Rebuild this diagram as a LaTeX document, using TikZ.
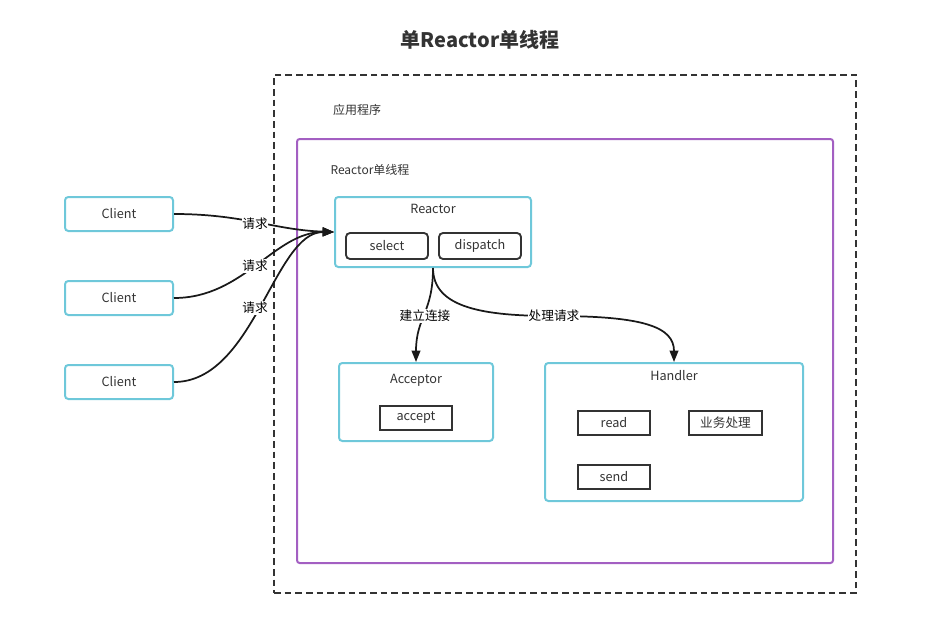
\documentclass[tikz,border=0pt]{standalone}
\usepackage{fontspec}
\setmainfont{Noto Sans CJK SC}
\usetikzlibrary{arrows.meta,calc}
\definecolor{cyanb}{HTML}{6EC8DA}
\definecolor{purp}{HTML}{A35FC2}
\definecolor{dk}{HTML}{333333}
\begin{document}
\begin{tikzpicture}[x=0.75pt,y=-0.75pt,
  txt/.style={font=\fontsize{9.5}{11}\selectfont, text=dk, inner sep=1pt},
  cbox/.style n args={2}{draw=cyanb, line width=1.5pt, rounded corners=2.5pt, minimum width=#1*0.75pt, minimum height=#2*0.75pt, inner sep=0pt},
  rbox/.style={draw=dk, line width=1.4pt, rounded corners=3pt, minimum width=82*0.75pt, minimum height=26*0.75pt, inner sep=0pt, font=\fontsize{9.5}{11}\selectfont, text=dk},
  sbox/.style={draw=dk, line width=1.4pt, minimum width=#1*0.75pt, minimum height=24.5*0.75pt, inner sep=0pt, font=\fontsize{9.5}{11}\selectfont, text=dk},
  conn/.style={draw=black!90, line width=1.3pt, -{Triangle[length=8.5pt,width=6.5pt]}},
  lbl/.style={fill=white, font=\fontsize{9.5}{11}\selectfont, text=black, inner sep=0.5pt}
]
\useasboundingbox (0,0) rectangle (930,628);
% title
\node[font=\fontsize{15}{18}\selectfont\bfseries, text=dk] (title) at (480,40) {单Reactor单线程};
% outer dashed
\node[draw=dk, line width=1.2pt, dash pattern=on 5pt off 3pt, minimum width=582*0.75pt, minimum height=518*0.75pt, inner sep=0pt] (app) at (565,334) {};
\node[txt, font=\fontsize{9}{11}\selectfont] (applbl) at (357,110) {应用程序};
% purple
\node[draw=purp, line width=1.5pt, rounded corners=2pt, minimum width=536*0.75pt, minimum height=424*0.75pt, inner sep=0pt] (thread) at (565,351) {};
\node[txt, font=\fontsize{9}{11}\selectfont] (threadlbl) at (370,170) {Reactor单线程};
% clients
\node[cbox={108}{34}, txt] (c1) at (119,214) {Client};
\node[cbox={108}{34}, txt] (c2) at (119,298) {Client};
\node[cbox={108}{34}, txt] (c3) at (119,382) {Client};
% reactor
\node[cbox={196}{70}] (reactor) at (433,232) {};
\node[txt] (reactorlbl) at (433,209) {Reactor};
\node[rbox] (sel) at (387,246) {select};
\node[rbox] (disp) at (480,246) {dispatch};
% acceptor
\node[cbox={154}{78}] (acceptor) at (416,402) {};
\node[txt] (acclbl) at (416,380) {Acceptor};
\node[sbox=72] (acc) at (416,418) {accept};
% handler
\node[cbox={258}{138}] (handler) at (674,432) {};
\node[txt] (hlbl) at (674,376) {Handler};
\node[sbox=72] (rd) at (614,423) {read};
\node[sbox=73] (biz) at (725.5,423) {业务处理};
\node[sbox=72] (snd) at (614,477) {send};
% connectors
\draw[conn] (c1.east) .. controls +(70,0) and +(-60,-2) .. (reactor.west);
\draw[conn] (c2.east) .. controls +(70,0) and +(-60,0) .. (reactor.west);
\draw[conn] (c3.east) .. controls +(80,0) and +(-60,0) .. (reactor.west);
\node[lbl] (q1) at (255,224) {请求};
\node[lbl] (q2) at (255,266) {请求};
\node[lbl] (q3) at (255,308) {请求};
\draw[conn] (reactor.south) .. controls +(0,45) and +(0,-45) .. (acceptor.north);
\node[lbl] (l1) at (425,316) {建立连接};
\coordinate (m2) at (554,316);
\draw[conn] (reactor.south) .. controls +(0,40) and +(-70,0) .. (m2) .. controls +(90,0) and +(0,-35) .. (handler.north);
\node[lbl] (l2) at (554,316) {处理请求};
\end{tikzpicture}
\end{document}
